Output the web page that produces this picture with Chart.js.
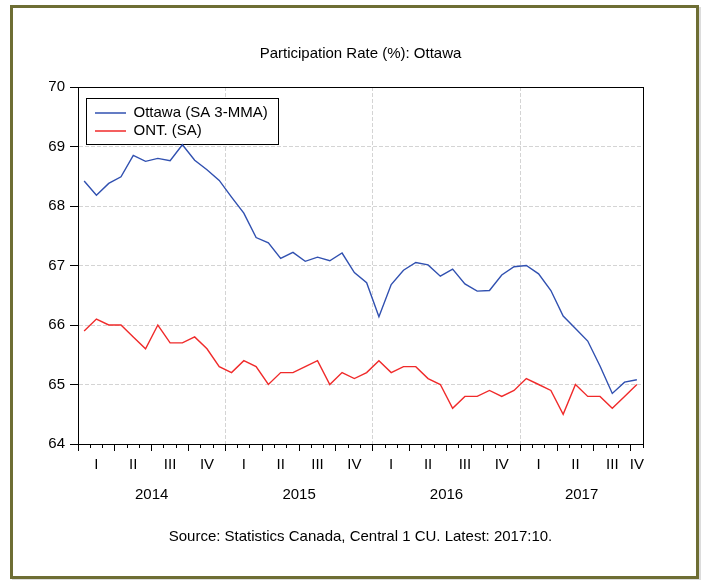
<!DOCTYPE html>
<html>
<head>
<meta charset="utf-8">
<script src="https://cdn.jsdelivr.net/npm/chart.js@4.4.1/dist/chart.umd.min.js"></script>
<style>
  html, body { margin: 0; padding: 0; background: #fff; }
  #frame { position: absolute; left: 10px; top: 5px; width: 689px; height: 574px; box-sizing: border-box; border: 3px solid #6e6e34; box-shadow: 2px 2px 0 #dcdcdc; }
  #c { position: absolute; left: 0; top: 0; }
</style>
</head>
<body>
<div id="frame"></div>
<canvas id="c" width="704" height="580"></canvas>
<script>
// ---- data (monthly, 2014:01 .. 2017:10) ----
const years = ['2014', '2015', '2016', '2017'];
const quarterNames = ['I', 'II', 'III', 'IV'];
const ottawa = [
  68.42, 68.18, 68.38, 68.49, 68.85, 68.75, 68.80, 68.76, 69.03, 68.77, 68.61, 68.43,
  68.15, 67.88, 67.47, 67.38, 67.12, 67.22, 67.07, 67.14, 67.08, 67.21, 66.88, 66.71,
  66.14, 66.68, 66.92, 67.05, 67.01, 66.82, 66.94, 66.69, 66.57, 66.58, 66.84, 66.98,
  67.00, 66.86, 66.58, 66.15, 65.94, 65.73, 65.31, 64.85, 65.04, 65.08
];
const ont = [
  65.9, 66.1, 66.0, 66.0, 65.8, 65.6, 66.0, 65.7, 65.7, 65.8, 65.6, 65.3,
  65.2, 65.4, 65.3, 65.0, 65.2, 65.2, 65.3, 65.4, 65.0, 65.2, 65.1, 65.2,
  65.4, 65.2, 65.3, 65.3, 65.1, 65.0, 64.6, 64.8, 64.8, 64.9, 64.8, 64.9,
  65.1, 65.0, 64.9, 64.5, 65.0, 64.8, 64.8, 64.6, 64.8, 65.0
];
const yTicks = [64, 65, 66, 67, 68, 69, 70];
const titleText = 'Participation Rate (%): Ottawa';
const sourceText = 'Source: Statistics Canada, Central 1 CU. Latest: 2017:10.';
const seriesNames = ['Ottawa (SA 3-MMA)', 'ONT. (SA)'];

// ---- derived helpers ----
const N = ottawa.length;
const toPts = arr => arr.map((v, i) => ({ x: i + 0.5, y: v }));
const monthBounds = Array.from({ length: N + 1 }, (_, i) => i);
const quarterBounds = monthBounds.filter(v => v % 3 === 0);
const quarterCenters = [], quarterLabels = [];
for (let q = 0; q * 3 < N; q++) {
  quarterCenters.push((q * 3 + Math.min(q * 3 + 3, N)) / 2);
  quarterLabels.push(quarterNames[q % 4]);
}
const yearCenters = years.map((y, k) => (k * 12 + Math.min(k * 12 + 12, N)) / 2);

Chart.defaults.font.family = "'Liberation Sans', Arial, sans-serif";
Chart.defaults.font.size = 15;
Chart.defaults.color = '#000';

const GRID = '#d4d4d4';
const DASH = [4, 2];
const clear = 'rgba(0,0,0,0)';

const legendFrame = {
  id: 'legendFrame',
  afterLayout(chart) {
    const lg = chart.legend, ca = chart.chartArea;
    lg.left = ca.left + 14;
    lg.top = ca.top + 15.5;
  },
  beforeDatasetsDraw(chart) {
    const lg = chart.legend;
    const hb = lg.legendHitBoxes;
    if (!hb || !hb.length) return;
    const ctx = chart.ctx;
    const first = hb[0], last = hb[hb.length - 1];
    const left = first.left - 9;
    const top = first.top + first.height / 2 - 15;
    const right = Math.max(...hb.map(h => h.left + h.width)) + 10;
    const bottom = last.top + last.height / 2 + 13;
    ctx.save();
    ctx.fillStyle = '#fff';
    ctx.fillRect(Math.round(left) + 0.5, Math.round(top) + 0.5, Math.round(right - left), Math.round(bottom - top));
    ctx.strokeStyle = '#000';
    ctx.lineWidth = 1;
    ctx.strokeRect(Math.round(left) + 0.5, Math.round(top) + 0.5, Math.round(right - left), Math.round(bottom - top));
    ctx.restore();
    lg.draw();
  }
};

const blankAxis = (pos, extra) => Object.assign({
  type: 'linear', position: pos, display: true,
  grid: { display: false, drawTicks: false },
  ticks: { display: false },
  border: { display: true, color: '#000', width: 1 }
}, extra);

new Chart(document.getElementById('c'), {
  type: 'line',
  data: {
    datasets: [
      { label: seriesNames[0], data: toPts(ottawa), borderColor: '#3050b0', backgroundColor: '#3050b0',
        borderWidth: 1.4, pointRadius: 0, tension: 0, xAxisID: 'x', yAxisID: 'y' },
      { label: seriesNames[1], data: toPts(ont), borderColor: '#f02a2a', backgroundColor: '#f02a2a',
        borderWidth: 1.4, pointRadius: 0, tension: 0, xAxisID: 'x', yAxisID: 'y' }
    ]
  },
  options: {
    responsive: false,
    animation: false,
    devicePixelRatio: 1,
    layout: { padding: { left: 0, right: 61, top: 0, bottom: 0 } },
    plugins: {
      title: { display: true, text: titleText, fullSize: false, color: '#000',
        font: { size: 15, weight: 'normal' }, padding: { top: 45, bottom: 24 } },
      subtitle: { display: true, text: sourceText, position: 'bottom', fullSize: false, color: '#000',
        font: { size: 15, weight: 'normal' }, padding: { top: 17, bottom: 34 } },
      legend: {
        display: true, position: 'chartArea', align: 'start',
        labels: { usePointStyle: true, pointStyle: 'line', pointStyleWidth: 31, boxHeight: 15,
          padding: 3, color: '#000', font: { size: 15 } }
      },
      tooltip: { enabled: false }
    },
    scales: {
      x: {
        type: 'linear', position: 'bottom', min: 0, max: N, weight: 0,
        afterBuildTicks: s => { s.ticks = monthBounds.map(v => ({ value: v })); },
        afterFit: s => { s.height = 4; },
        ticks: { display: false, autoSkip: false },
        grid: {
          display: true, drawOnChartArea: true, drawTicks: true, tickLength: 4,
          color: c => (c.tick && c.tick.value % 12 === 0 && c.tick.value > 0 && c.tick.value < N) ? GRID : clear,
          tickColor: '#000', tickWidth: 1, lineWidth: 1
        },
        border: { display: true, color: '#000', width: 1, dash: DASH }
      },
      xqt: {
        type: 'linear', position: 'bottom', min: 0, max: N, weight: 1,
        afterBuildTicks: s => { s.ticks = quarterBounds.map(v => ({ value: v })); },
        afterFit: s => { s.height = 3; },
        ticks: { display: false, autoSkip: false },
        grid: { display: true, drawOnChartArea: false, drawTicks: true, tickLength: 3, tickColor: '#000', tickWidth: 1 },
        border: { display: false }
      },
      xq: {
        type: 'linear', position: 'bottom', min: 0, max: N, weight: 2,
        afterBuildTicks: s => { s.ticks = quarterCenters.map(v => ({ value: v })); },
        afterFit: s => { s.height = 24; },
        ticks: { display: true, autoSkip: false, maxRotation: 0, padding: 5,
          callback: (v, i) => quarterLabels[i], font: { size: 15 } },
        grid: { display: false, drawTicks: false },
        border: { display: false }
      },
      xy: {
        type: 'linear', position: 'bottom', min: 0, max: N, weight: 3,
        afterBuildTicks: s => { s.ticks = yearCenters.map(v => ({ value: v })); },
        afterFit: s => { s.height = 36; },
        ticks: { display: true, autoSkip: false, maxRotation: 0, padding: 11,
          callback: (v, i) => years[i], font: { size: 15 } },
        grid: { display: false, drawTicks: false },
        border: { display: false }
      },
      xt: blankAxis('top', { min: 0, max: N, afterFit: s => { s.height = 0; } }),
      y: {
        type: 'linear', position: 'left', min: yTicks[0], max: yTicks[yTicks.length - 1],
        afterBuildTicks: s => { s.ticks = yTicks.map(v => ({ value: v })); },
        afterFit: s => { s.width = 78; },
        ticks: { display: true, padding: 5, font: { size: 15 }, callback: v => String(v) },
        grid: {
          display: true, drawOnChartArea: true, drawTicks: true, tickLength: 8,
          color: c => (c.tick && c.tick.value > yTicks[0] && c.tick.value < yTicks[yTicks.length - 1]) ? GRID : clear,
          tickColor: '#000', tickWidth: 1, lineWidth: 1
        },
        border: { display: true, color: '#000', width: 1, dash: DASH }
      },
      yr: blankAxis('right', { min: yTicks[0], max: yTicks[yTicks.length - 1], afterFit: s => { s.width = 0; } })
    }
  },
  plugins: [legendFrame]
});
</script>
</body>
</html>
